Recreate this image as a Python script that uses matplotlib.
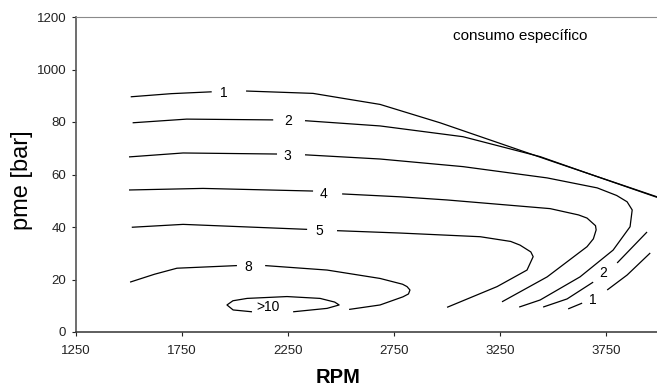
import matplotlib
matplotlib.use("Agg")
import matplotlib.pyplot as plt

plt.rcParams['font.family'] = ['Liberation Sans', 'DejaVu Sans']

# iso-consumption lines, (rpm, pme) pairs; each level is split where its label sits
iso1_a = [(1508, 89.6), (1700, 90.8), (1890, 91.5)]
iso1_b = [(2052, 91.8), (2368, 90.9), (2510, 89.0), (2684, 86.7), (2967, 79.7),
          (3500, 64.9), (3990, 51.5)]
iso2_a = [(1517, 79.7), (1772, 81.1), (2180, 80.8)]
iso2_b = [(2330, 80.5), (2684, 78.5), (3075, 74.4), (3439, 66.8), (3700, 59.4),
          (3990, 51.3)]
iso3_a = [(1500, 66.7), (1755, 68.2), (2198, 67.8)]
iso3_b = [(2330, 67.5), (2684, 65.9), (3075, 63.0), (3472, 58.7), (3708, 54.9),
          (3800, 52.0), (3849, 49.6), (3873, 46.5), (3863, 40.1), (3783, 31.2),
          (3627, 21.0), (3439, 12.2), (3340, 9.5)]
iso4_a = [(1500, 54.1), (1849, 54.7), (2368, 53.7)]
iso4_b = [(2505, 52.6), (2778, 51.5), (3000, 50.3), (3486, 47.0), (3620, 44.6),
          (3660, 43.4), (3700, 40.5), (3703, 38.9), (3690, 35.5), (3660, 32.5),
          (3472, 21.0), (3259, 11.5)]
iso5_a = [(1513, 39.9), (1755, 41.0), (2340, 39.1)]
iso5_b = [(2481, 38.6), (2778, 37.7), (3156, 36.3), (3300, 34.5), (3344, 33.1),
          (3395, 30.5), (3406, 28.7), (3377, 23.6), (3236, 17.3), (3000, 9.4)]
iso8_a = [(1505, 19.0), (1620, 22.0), (1726, 24.3), (2009, 25.3)]
iso8_b = [(2142, 25.3), (2434, 23.6), (2684, 20.4), (2790, 18.2), (2811, 17.3),
          (2825, 16.0), (2818, 14.5), (2792, 13.4), (2684, 10.3), (2538, 8.6)]
iso10 = [(2080, 7.7), (1991, 8.4), (1962, 10.3), (1990, 11.9), (2057, 12.8),
         (2245, 13.5), (2401, 12.8), (2470, 11.4), (2491, 10.3), (2434, 9.0),
         (2274, 7.7)]
iso2_c = [(3453, 9.5), (3566, 12.6), (3689, 19.0)]
iso2_d = [(3802, 26.3), (3943, 38.1)]
iso1_c = [(3571, 8.8), (3637, 11.0)]
iso1_d = [(3755, 16.0), (3849, 21.7), (3958, 30.1)]

level_labels = ['1', '2', '3', '4', '5', '8', '>10', '2', '1']
label_rpm = [1948, 2249, 2245, 2415, 2396, 2061, 2156, 3734, 3689]
label_pme = [91.0, 80.5, 67.2, 52.6, 38.6, 24.9, 9.4, 22.4, 12.2]

x_ticks = [1250, 1750, 2250, 2750, 3250, 3750]
y_ticks = [0, 20, 40, 60, 80, 100, 120]
y_tick_labels = ['0', '20', '40', '60', '80', '1000', '1200']

fig = plt.figure(figsize=(6.57, 3.88), dpi=100)
ax = fig.add_axes([76 / 657, 56 / 388, 581 / 657, 315 / 388])

segments = [iso1_a, iso1_b, iso2_a, iso2_b, iso3_a, iso3_b, iso4_a, iso4_b,
            iso5_a, iso5_b, iso8_a, iso8_b, iso10, iso2_c, iso2_d, iso1_c, iso1_d]
for seg in segments:
    xs = [p[0] for p in seg]
    ys = [p[1] for p in seg]
    ax.plot(xs, ys, color='black', lw=0.9, solid_capstyle='butt')

for lab, lx, ly in zip(level_labels, label_rpm, label_pme):
    ax.text(lx, ly, lab, fontsize=10, ha='center', va='center')

ax.text(3028, 112.8, 'consumo específico', fontsize=11, ha='left', va='center')

ax.set_xlim(1250, 3990)
ax.set_ylim(0, 120)
ax.set_xticks(x_ticks)
ax.set_xticklabels([str(t) for t in x_ticks])
ax.set_yticks(y_ticks)
ax.set_yticklabels(y_tick_labels)
ax.tick_params(axis='both', direction='out', length=3, width=0.8,
               labelsize=9.5, colors='#222222')
ax.tick_params(axis='y', pad=4)
ax.tick_params(axis='x', pad=6)

ax.spines['right'].set_visible(False)
ax.spines['top'].set_color('#8a8a8a')
ax.spines['top'].set_linewidth(0.8)
ax.spines['left'].set_color('#555555')
ax.spines['left'].set_linewidth(1.2)
ax.spines['bottom'].set_color('#333333')
ax.spines['bottom'].set_linewidth(1.1)

ax.text(0.451, -0.146, 'RPM', transform=ax.transAxes, fontsize=14.5,
        fontweight='bold', ha='center', va='center')
ax.text(-0.093, 0.483, 'pme [bar]', transform=ax.transAxes, fontsize=17,
        rotation=90, ha='center', va='center')

fig.savefig('out.png', dpi=100)
